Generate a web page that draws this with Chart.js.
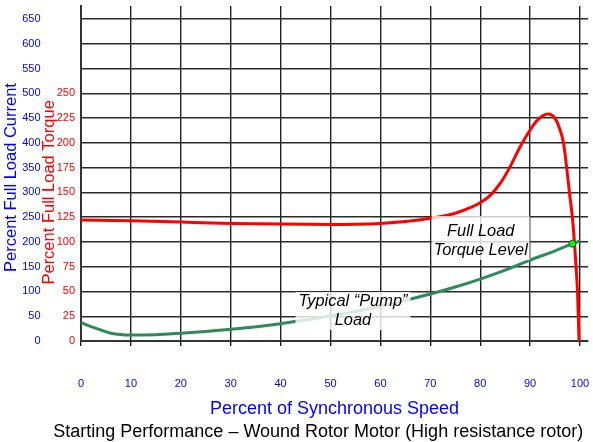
<!DOCTYPE html>
<html><head><meta charset="utf-8">
<script src="https://cdn.jsdelivr.net/npm/chart.js@4/dist/chart.umd.min.js"></script>
<style>html,body{margin:0;padding:0;background:#fff}</style>
</head><body>
<canvas id="c" width="593" height="442"></canvas>
<script>
// ---- data ----
const speedTicks = [0, 10, 20, 30, 40, 50, 60, 70, 80, 90, 100];
const currentTicks = [0, 50, 100, 150, 200, 250, 300, 350, 400, 450, 500, 550, 600, 650];
const torqueTicks = [0, 25, 50, 75, 100, 125, 150, 175, 200, 225, 250];

const torqueSpeed = [0, 10, 20, 30, 40, 50, 60, 65, 70, 75, 78, 80, 82, 84, 86, 88, 90, 91.3, 92.6, 93.6, 95, 96, 96.7, 97.3, 97.9, 98.5, 98.9, 99.2, 99.5, 99.8];
const torqueValues = [122, 121.4, 120, 118.7, 118, 117.7, 118.7, 120.5, 123.8, 129, 134.5, 139.5, 147, 159, 176, 196, 213, 222, 227.5, 229, 224.7, 212.9, 199.5, 176, 149, 123, 98, 75, 50, 0];

const pumpSpeed = [0, 3, 6, 10, 15, 20, 30, 40, 45, 50, 55, 60, 65, 70, 75, 80, 85, 90, 95, 98.5, 100];
const pumpValues = [18.5, 12.8, 7.8, 6, 6.4, 7.7, 11.8, 17.5, 21.3, 25.5, 29.8, 35, 41, 47.4, 54.5, 62.5, 71.5, 81.7, 91, 98.2, 100.9];

const fullLoadSpeed = [98.5];
const fullLoadTorque = [98.2];

const titleX = 'Percent of Synchronous Speed';
const titleCurrent = 'Percent Full Load Current';
const titleTorque = 'Percent Full Load Torque';
const caption = 'Starting Performance \u2013 Wound Rotor Motor (High resistance rotor)';
const pumpLabel = ['Typical \u201CPump\u201D', 'Load'];
const fullLoadLabel = ['Full Load', 'Torque Level'];

const FONT = '"Liberation Sans", Arial, sans-serif';
const BLUE = '#0000ff', RED = '#ff0000', GREEN = '#2e8b57';

const toPts = (xs, ys) => xs.map((x, i) => ({x, y: ys[i]}));
const noPad = s => { s.paddingLeft = 0; s.paddingRight = 0; s.paddingTop = 0; s.paddingBottom = 0; };

const extras = {
  id: 'extras',
  afterDatasetsDraw(chart) {
    const ctx = chart.ctx, xs = chart.scales.x, yt = chart.scales.yTor;
    function label(lines, sx, ty, bx0, bx1, by0, by1, bl) {
      const cx = xs.getPixelForValue(sx), cy = yt.getPixelForValue(ty);
      ctx.save();
      ctx.fillStyle = 'rgba(255,255,255,0.8)';
      ctx.fillRect(cx + bx0, cy + by0, bx1 - bx0, by1 - by0);
      ctx.fillStyle = '#000';
      ctx.font = 'italic 16.4px ' + FONT;
      ctx.textAlign = 'center';
      ctx.textBaseline = 'alphabetic';
      lines.forEach((t, i) => ctx.fillText(t, cx, cy + bl[i]));
      ctx.restore();
    }
    label(pumpLabel, 54.5, 30.3, -57.5, 57.5, -19, 19, [-4.5, 14]);
    label(fullLoadLabel, 80.1, 103.9, -49, 49, -22, 22, [-2, 17]);
  },
  afterDraw(chart) {
    const ctx = chart.ctx, yc = chart.scales.yCur, yt = chart.scales.yTor;
    ctx.save();
    ctx.font = '16.5px ' + FONT;
    ctx.textAlign = 'center';
    ctx.textBaseline = 'alphabetic';
    ctx.fillStyle = BLUE;
    ctx.translate(yc.left + 16, yc.getPixelForValue(330));
    ctx.rotate(-Math.PI / 2);
    ctx.fillText(titleCurrent, 0, 0);
    ctx.restore();
    ctx.save();
    ctx.font = '16.5px ' + FONT;
    ctx.textAlign = 'center';
    ctx.textBaseline = 'alphabetic';
    ctx.fillStyle = RED;
    ctx.translate(yc.left + 53.5, yt.getPixelForValue(150));
    ctx.rotate(-Math.PI / 2);
    ctx.fillText(titleTorque, 0, 0);
    ctx.restore();
    ctx.save();
    ctx.font = '18px ' + FONT;
    ctx.textAlign = 'left';
    ctx.textBaseline = 'alphabetic';
    ctx.fillStyle = '#000';
    ctx.fillText(caption, 53.3, 436.7);
    ctx.restore();
  }
};

new Chart(document.getElementById('c'), {
  type: 'scatter',
  data: {
    datasets: [
      {
        label: 'Full load', data: toPts(fullLoadSpeed, fullLoadTorque), yAxisID: 'yTor', order: 0,
        showLine: false, pointRadius: 3.5, pointBackgroundColor: '#00ff00',
        pointBorderColor: '#1f4f2a', pointBorderWidth: 1
      },
      {
        label: 'Torque', data: toPts(torqueSpeed, torqueValues), yAxisID: 'yTor', order: 1,
        showLine: true, borderColor: RED, borderWidth: 3, pointRadius: 0,
        cubicInterpolationMode: 'monotone', fill: false
      },
      {
        label: 'Pump load', data: toPts(pumpSpeed, pumpValues), yAxisID: 'yTor', order: 2,
        showLine: true, borderColor: GREEN, borderWidth: 3, pointRadius: 0,
        cubicInterpolationMode: 'monotone', fill: false
      }
    ]
  },
  options: {
    responsive: false,
    animation: false,
    devicePixelRatio: 1,
    layout: {padding: {left: 0, right: 5, top: 6, bottom: 0}},
    plugins: {legend: {display: false}, tooltip: {enabled: false}, title: {display: false}},
    scales: {
      x: {
        type: 'linear', position: 'bottom', min: 0, max: 101.6,
        afterBuildTicks: s => { s.ticks = speedTicks.map(v => ({value: v})); },
        afterFit: s => { s.height = 101; noPad(s); },
        ticks: {color: BLUE, font: {family: FONT, size: 11}, padding: 31, maxRotation: 0, autoSkip: false},
        grid: {color: '#222', lineWidth: 1.4, tickLength: 5, drawTicks: true, tickColor: '#222'},
        border: {display: true, color: '#333', width: 2},
        title: {display: true, text: titleX, color: BLUE, font: {family: FONT, size: 18}, padding: {top: 0, bottom: 22.6}}
      },
      yCur: {
        type: 'linear', position: 'left', weight: 1, min: 0, max: 676.2,
        afterBuildTicks: s => { s.ticks = currentTicks.map(v => ({value: v})); },
        afterFit: s => { s.width = 43; noPad(s); },
        ticks: {color: BLUE, font: {family: FONT, size: 11}, padding: 2.5, autoSkip: false},
        grid: {display: false, drawTicks: false},
        border: {display: false}
      },
      yTor: {
        type: 'linear', position: 'left', weight: 0, min: 0, max: 338.1,
        afterBuildTicks: s => { s.ticks = torqueTicks.concat([275, 300, 325]).map(v => ({value: v})); },
        afterFit: s => { s.width = 38; noPad(s); },
        ticks: {color: RED, font: {family: FONT, size: 11}, padding: 6, autoSkip: false,
                callback: v => (torqueTicks.includes(v) ? String(v) : '')},
        grid: {color: '#2a2a2a', lineWidth: 1.4, drawTicks: false},
        border: {display: true, color: '#333', width: 2}
      }
    }
  },
  plugins: [extras]
});
</script>
</body></html>
